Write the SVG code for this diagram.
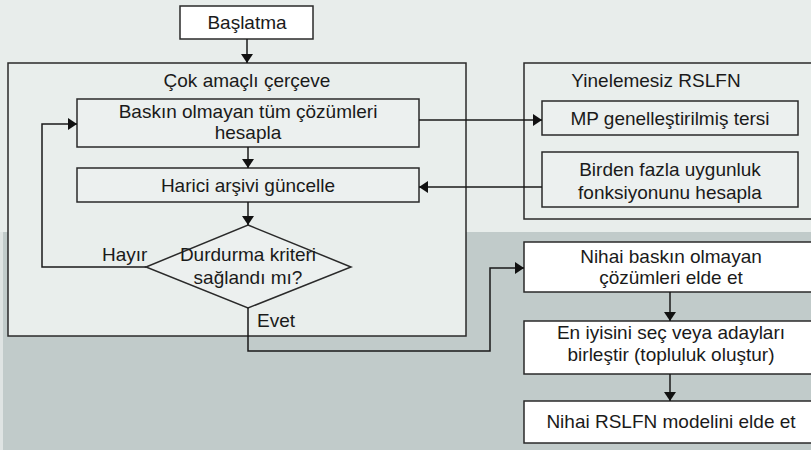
<svg xmlns="http://www.w3.org/2000/svg" width="811" height="450" viewBox="0 0 811 450">
<defs>
<marker id="ah" viewBox="0 0 9 12" refX="9" refY="6" markerWidth="9" markerHeight="12" markerUnits="userSpaceOnUse" orient="auto">
<path d="M0,0 L9,6 L0,12 z" fill="#111"/>
</marker>
<style>
text{font-family:"Liberation Sans",Arial,sans-serif;font-size:19px;fill:#1a1a1a;text-anchor:middle}
.frame{fill:#e9eeec;stroke:#2a2a2a;stroke-width:1.5}
.box{fill:#ecf0ef;stroke:#2a2a2a;stroke-width:1.5}
.wbox{fill:#ffffff;stroke:#2a2a2a;stroke-width:1.5}
.conn{fill:none;stroke:#1a1a1a;stroke-width:1.5}
.lbl{text-anchor:start}
</style>
</defs>
<rect x="0" y="0" width="811" height="232" fill="#e8edeb"/>
<rect x="0" y="232" width="811" height="218" fill="#c1cbca"/>
<rect x="0" y="232" width="3" height="218" fill="#dfe4e3"/>

<g id="frame-cok">
<rect class="frame" x="8" y="63" width="458" height="273"/>
<text x="247" y="87">Çok amaçlı çerçeve</text>
</g>
<g id="frame-rslfn">
<rect class="frame" x="524" y="63" width="300" height="156"/>
<text x="656" y="87">Yinelemesiz RSLFN</text>
</g>

<g id="baslatma">
<rect class="wbox" x="180" y="6" width="133" height="33"/>
<text x="247" y="29">Başlatma</text>
</g>
<g id="baskin">
<rect class="box" x="77" y="99" width="342" height="48"/>
<text x="248" y="118">Baskın olmayan tüm çözümleri</text>
<text x="248" y="139">hesapla</text>
</g>
<g id="harici">
<rect class="box" x="77" y="168" width="342" height="34"/>
<text x="248" y="192">Harici arşivi güncelle</text>
</g>
<g id="durdurma">
<polygon class="box" points="248,225 351,267 248,308 146,267"/>
<text x="248" y="261">Durdurma kriteri</text>
<text x="248" y="284">sağlandı mı?</text>
</g>
<g id="mp">
<rect class="box" x="542" y="101" width="256" height="34"/>
<text x="670" y="125">MP genelleştirilmiş tersi</text>
</g>
<g id="birden">
<rect class="box" x="542" y="152" width="256" height="55"/>
<text x="670" y="176">Birden fazla uygunluk</text>
<text x="670" y="199">fonksiyonunu hesapla</text>
</g>
<g id="nihai-baskin">
<rect class="wbox" x="524" y="242" width="296" height="50"/>
<text x="671" y="263">Nihai baskın olmayan</text>
<text x="671" y="284">çözümleri elde et</text>
</g>
<g id="en-iyisini">
<rect class="wbox" x="524" y="321" width="296" height="53"/>
<text x="671" y="339">En iyisini seç veya adayları</text>
<text x="671" y="361">birleştir (topluluk oluştur)</text>
</g>
<g id="nihai-rslfn">
<rect class="wbox" x="524" y="401" width="296" height="42"/>
<text x="671" y="428">Nihai RSLFN modelini elde et</text>
</g>

<g id="connectors">
<path class="conn" d="M247,39 V63" marker-end="url(#ah)"/>
<path class="conn" d="M248,147 V168" marker-end="url(#ah)"/>
<path class="conn" d="M248,202 V225" marker-end="url(#ah)"/>
<path class="conn" d="M146,267 H42 V124 H77" marker-end="url(#ah)"/>
<path class="conn" d="M248,308 V351 H490 V268 H524" marker-end="url(#ah)"/>
<path class="conn" d="M419,120 H542" marker-end="url(#ah)"/>
<path class="conn" d="M542,187 H419" marker-end="url(#ah)"/>
<path class="conn" d="M670,292 V321" marker-end="url(#ah)"/>
<path class="conn" d="M670,374 V401" marker-end="url(#ah)"/>
<text class="lbl" x="102" y="261">Hayır</text>
<text class="lbl" x="257" y="327">Evet</text>
</g>
</svg>
